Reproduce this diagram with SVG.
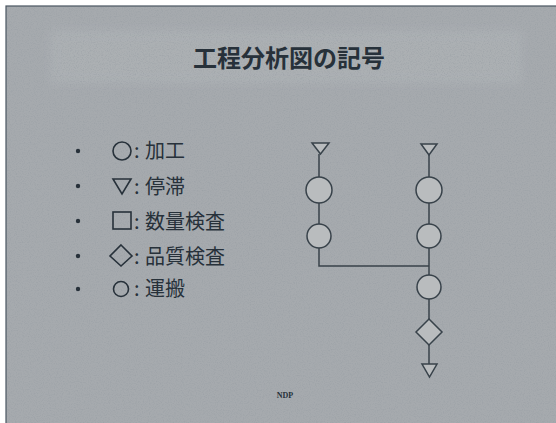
<svg xmlns="http://www.w3.org/2000/svg" width="556" height="423" viewBox="0 0 556 423">
<style>
  .bg { fill: #a6aaae; }
  .band { fill: #b4b8bb; }
  .txt { font-family: "Noto Sans CJK JP", "Noto Sans", sans-serif; fill: #27313a; }
  .title { font-size: 24px; font-weight: bold; }
  .item { font-size: 20px; }
  .sym { fill: none; stroke: #27313a; stroke-width: 1.6; }
  .node { fill: #b9bcbe; stroke: #38424a; stroke-width: 1.5; }
  .conn { fill: none; stroke: #38424a; stroke-width: 1.5; }
</style>
<defs>
  <filter id="noise" x="0" y="0" width="100%" height="100%">
    <feTurbulence type="fractalNoise" baseFrequency="0.85" numOctaves="2" seed="3" result="n"/>
    <feColorMatrix type="matrix" values="0 0 0 0 0.30  0 0 0 0 0.33  0 0 0 0 0.36  0 0 0 -2.2 1.25"/>
  </filter>
  <filter id="soft" x="-10%" y="-30%" width="120%" height="160%">
    <feGaussianBlur stdDeviation="5"/>
  </filter>
</defs>
<rect width="556" height="423" fill="#ffffff"/>
<rect x="6" y="6" width="552" height="419" class="bg" stroke="#4a5560" stroke-width="1.2"/>
<rect x="50" y="30" width="472" height="54" class="band" opacity="0.45" filter="url(#soft)"/>
<rect x="7" y="7" width="549" height="416" filter="url(#noise)" opacity="0.5"/>

<g id="title">
  <text class="txt title" x="289" y="67" text-anchor="middle">工程分析図の記号</text>
</g>

<g id="legend">
  <g id="item-kako">
    <circle cx="78" cy="151" r="2.2" fill="#27313a"/>
    <circle class="sym" cx="122" cy="151" r="9"/>
    <text class="txt item" x="134" y="158">:</text>
    <text class="txt item" x="145" y="158">加工</text>
  </g>
  <g id="item-teitai">
    <circle cx="78" cy="186" r="2.2" fill="#27313a"/>
    <polygon class="sym" points="113,179 131,179 122,194"/>
    <text class="txt item" x="134" y="194">:</text>
    <text class="txt item" x="145" y="194">停滞</text>
  </g>
  <g id="item-suryo">
    <circle cx="78" cy="221" r="2.2" fill="#27313a"/>
    <rect class="sym" x="113" y="212" width="18" height="17"/>
    <text class="txt item" x="134" y="229">:</text>
    <text class="txt item" x="145" y="229">数量検査</text>
  </g>
  <g id="item-hinshitsu">
    <circle cx="78" cy="256" r="2.2" fill="#27313a"/>
    <polygon class="sym" points="121,245 132,256 121,266 110,256"/>
    <text class="txt item" x="134" y="264">:</text>
    <text class="txt item" x="145" y="264">品質検査</text>
  </g>
  <g id="item-unpan">
    <circle cx="78" cy="289" r="2.2" fill="#27313a"/>
    <circle class="sym" cx="121" cy="289" r="7.5"/>
    <text class="txt item" x="134" y="296">:</text>
    <text class="txt item" x="145" y="296">運搬</text>
  </g>
</g>

<g id="connectors">
  <polyline class="conn" points="319,154 319,266 429,266"/>
  <line class="conn" x1="429" y1="155" x2="429" y2="364"/>
</g>

<g id="L-stop"><polygon class="node" points="312,143 329,143 320.5,154"/></g>
<g id="L-op1"><circle class="node" cx="319" cy="190" r="13"/></g>
<g id="L-op2"><circle class="node" cx="319" cy="236" r="12"/></g>

<g id="R-stop"><polygon class="node" points="421,144 437,144 429,155"/></g>
<g id="R-op1"><circle class="node" cx="429" cy="190" r="13"/></g>
<g id="R-op2"><circle class="node" cx="429" cy="236" r="12"/></g>
<g id="R-op3"><circle class="node" cx="429" cy="287" r="12"/></g>
<g id="R-insp"><polygon class="node" points="429,319 442,332 429,345 416,332"/></g>
<g id="R-stop2"><polygon class="node" points="422,364 437,364 429.5,377"/></g>

<g id="footer">
  <text x="285" y="398" text-anchor="middle" font-family="Liberation Serif, serif" font-size="8" font-weight="bold" fill="#27313a">NDP</text>
</g>
</svg>
